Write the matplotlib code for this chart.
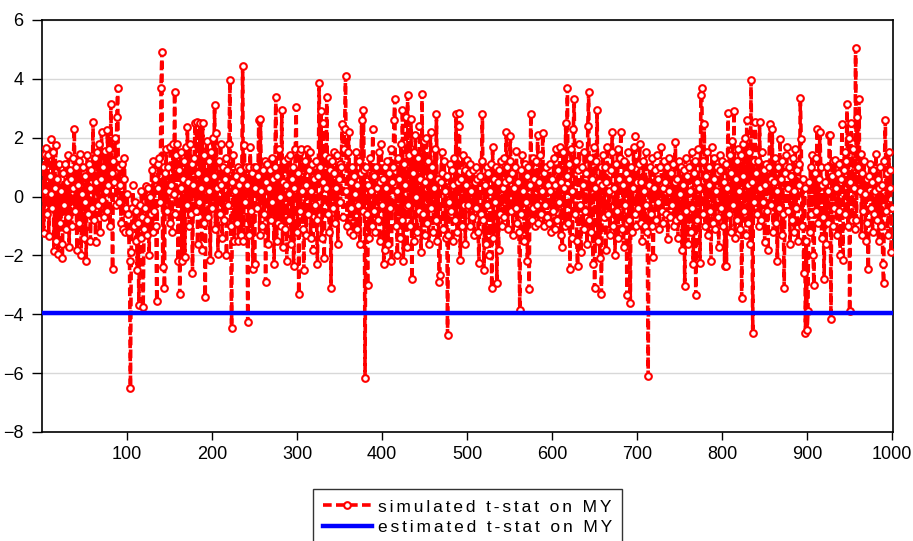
import matplotlib
matplotlib.use("Agg")
import matplotlib.pyplot as plt
import numpy as np

plt.rcParams['font.family'] = ['Liberation Sans', 'DejaVu Sans']

# Simulated t-statistics on MY, replications 1..1000
sim_tstat = [
    1.0, -1.25, 1.45, 0.2, 1.65, -0.6, 1.4, -1.35, 0.7, 0.1, 1.95, -0.4, 1.5, -1.85, 0.3, 1.75, -1.5, 0.6, -1.95, 1.1,
    -0.9, 0.2, -1.6, -2.1, 0.8, -0.3, 1.1, -1.1, 0.5, -0.7, 1.4, -1.7, 0.9, 0.6, -1.0, 0.3, 1.3, 2.3, -0.5, 1.0,
    -1.8, 0.4, 1.2, -0.9, 1.45, -2.0, 0.1, 1.0, -1.4, 0.7, -0.2, -2.2, 1.4, -0.6, 1.1, 0.3, -1.5, 0.9, -0.4, 2.55,
    -0.8, 1.3, -1.55, 0.5, 1.5, -0.3, 1.8, -1.2, 0.6, 2.2, -0.1, 1.0, -0.7, 1.55, 0.2, -0.5, 2.25, 0.4, 1.6, -1.0,
    3.15, 0.8, -2.45, 1.2, 0.5, 2.0, -0.3, 2.7, 3.7, -0.2, 1.0, 0.4, -0.9, 1.1, -1.1, 0.6, 1.3, -1.2, -0.4, 0.1,
    -0.6, -1.2, -2.2, -6.5, -1.9, -0.4, 0.4, -1.0, -0.2, -1.5, -0.5, -2.5, -0.9, -3.7, -0.3, -1.4, 0.2, -0.7, -3.75, -1.1,
    -0.4, 0.35, -1.3, -0.8, 0.3, -2.0, 0.0, -0.6, 0.9, -1.2, 1.2, -0.5, 0.6, -1.0, -3.55, 1.1, 0.3, 1.3, -0.2, 3.7,
    4.9, -2.4, 1.0, -3.1, 0.8, 1.6, -0.5, 1.0, 0.2, -0.9, 1.7, 0.4, -1.2, 1.8, 0.1, 3.55, -0.6, 1.4, 1.8, -2.2,
    0.9, -3.3, 1.5, 0.3, -2.2, 0.6, 1.2, -2.05, 1.7, -0.3, 2.35, 0.5, -1.0, 1.8, -0.6, 1.1, -2.6, 0.4, 1.3, 2.5,
    -0.5, 2.55, -1.6, 0.8, -0.2, 2.5, 0.3, -1.8, 2.5, -0.9, 1.4, -3.4, 0.6, 1.9, -0.7, 1.2, 0.2, -2.15, 1.5, -0.4,
    2.0, 0.7, 3.1, -1.1, 2.15, 0.3, -1.95, 1.2, -0.6, 1.8, 0.4, -1.4, 1.0, -0.8, 0.6, 1.3, -2.0, 0.9, -0.3, 1.8,
    3.95, -1.0, -4.45, 0.5, 1.4, -1.5, 0.2, 0.7, -0.9, 1.0, -1.5, 0.4, 0.9, -1.3, 0.6, 4.45, -1.5, 1.75, -0.2, 1.0,
    0.4, -4.25, 1.0, -1.3, 1.7, -0.5, 0.8, -2.45, 1.0, -2.3, 0.3, 1.0, -0.4, 0.7, 2.6, -1.3, 2.65, 0.2, -1.0, 0.9,
    -0.6, 1.2, -2.9, 0.5, 1.1, -1.6, 0.3, 0.9, -0.8, 1.3, -0.2, 0.6, -2.3, 1.0, 3.4, -1.5, 0.7, -0.9, 1.6, 0.0,
    -1.0, 2.95, -1.7, 0.5, 1.2, -1.1, 0.4, -2.2, 1.3, 0.1, -0.8, 1.4, -1.6, 0.6, 1.0, -2.35, 0.3, 1.6, 3.05, -1.2,
    0.8, -3.3, 1.5, -0.5, 1.6, 0.2, -1.1, -2.5, 1.2, 0.4, -1.3, 1.6, -0.6, 0.9, 1.5, -1.4, 0.2, 1.1, -1.8, 0.6,
    -0.3, 1.2, -0.8, -2.3, 0.7, 3.85, 1.0, 2.9, -1.4, 0.5, 2.5, -2.1, 1.4, 0.3, 3.4, -0.6, 1.3, -1.2, 0.9, -3.1,
    1.2, -0.4, 0.8, 1.5, -0.9, 0.3, 1.4, -1.6, 0.6, 1.1, -0.2, 1.0, 2.45, -0.7, 1.6, 2.3, 4.1, 0.2, -1.0, 1.5,
    2.2, -1.2, 0.5, -0.4, 1.0, -1.3, 0.7, 0.1, 1.5, -1.1, 0.4, -0.3, 1.2, -1.6, 0.8, 2.6, -0.5, 2.95, 0.9, -6.15,
    1.0, -0.6, -3.0, 0.4, -1.4, 1.3, 0.2, -1.0, 2.3, -0.5, 0.7, -1.2, 1.0, 0.3, -0.8, 1.5, -1.5, 0.5, 1.8, -0.3,
    0.6, -2.3, 1.0, -1.8, 0.3, 1.2, -1.6, 0.8, -0.4, 1.6, -2.2, 0.5, 1.0, 2.6, 3.3, -1.0, 0.2, -2.0, 1.3, 0.6,
    -1.4, 1.8, -0.8, 2.95, -2.2, 1.1, 0.4, 2.7, -1.7, 3.45, -0.3, 1.4, -1.0, 2.65, -2.8, 0.8, 1.5, -1.5, 2.1, 0.0,
    -1.2, 1.3, -0.5, 2.4, 0.6, -1.9, 3.5, -0.6, 1.9, -1.3, 0.5, 2.0, -0.9, 1.2, -1.6, 0.7, 2.2, -0.4, 1.0, -1.2,
    0.3, 1.6, -0.8, 2.8, -1.5, 0.6, -2.9, -2.65, 0.5, 1.5, 0.8, -1.1, 1.2, 0.2, -1.4, 0.7, -4.7, -1.3, -0.2, 1.1,
    -0.5, 0.9, -1.5, 0.4, 1.3, -0.8, 2.8, -1.2, 0.5, 2.4, 2.85, -2.15, 0.6, -1.0, 1.4, -0.3, 0.9, -1.6, 0.4, 1.25,
    -0.3, 0.8, -1.0, 1.1, 0.2, -0.7, 0.9, -1.3, 0.5, 1.0, -0.4, 0.6, -1.2, -2.25, 0.7, -0.6, 1.2, 2.8, -0.8, -2.5,
    0.4, -1.6, 1.0, -0.3, 0.8, -2.0, 0.2, 1.1, -3.1, 1.7, -1.4, 0.6, -0.2, 1.0, -2.95, 0.5, -1.8, 0.9, -0.6, 1.2,
    -1.0, 0.3, 1.3, -0.7, 0.5, 2.2, 1.0, -1.1, 0.6, 1.2, 2.05, -0.5, 0.8, -1.3, 0.3, 1.0, -0.4, 1.55, -0.9, 0.5,
    -1.2, -3.85, 0.9, -0.6, 1.4, 0.2, -1.5, 1.1, -0.2, 0.7, -2.2, 1.0, -3.15, 0.4, 2.8, -0.8, 1.3, -0.4, 0.6, -1.0,
    1.2, -0.3, 2.1, -0.9, 0.5, 1.4, -0.6, 0.2, 2.15, -1.0, 0.8, -0.3, 1.0, -0.7, 0.4, -0.9, 1.1, 0.2, -1.2, 0.6,
    -0.5, 1.3, -1.1, 0.4, 1.6, -0.8, 0.9, -0.2, 1.7, -1.3, 0.5, -1.7, 1.5, 0.3, -1.0, 2.5, 0.7, 3.7, -0.9, 1.1,
    -2.45, 1.6, 0.2, -1.4, 2.3, 3.3, -0.6, 1.2, -1.5, -2.35, 0.9, 1.8, -0.3, -1.9, 1.0, 0.4, -1.1, 1.5, -0.5, 0.8,
    -1.6, 2.4, 3.55, -0.8, 1.3, -1.2, 0.6, -2.3, 1.7, -3.1, 0.3, 1.2, 2.95, -1.5, 0.5, -2.1, 1.0, -3.3, 0.4, 1.4,
    -0.7, 1.0, -1.8, 0.5, 1.7, -0.6, 0.2, -1.3, 0.9, 1.5, 2.2, -1.0, 0.3, -2.0, 1.1, -0.5, 1.6, -1.4, 0.6, 1.3,
    2.2, -1.1, 0.4, -1.7, 1.2, -0.3, 0.8, -3.35, 1.5, -0.8, 0.6, -3.6, 1.0, -1.2, 0.3, 1.7, -0.6, 2.05, -1.0, 0.5,
    -0.4, 1.1, 1.8, -0.9, 0.5, -1.5, 1.2, 0.2, -1.0, 1.5, -0.3, -1.2, -6.1, 0.4, 1.0, -0.6, -1.0, 1.3, -2.05, 0.3,
    0.9, -0.8, 1.4, -0.2, 0.6, -1.1, 1.0, 1.7, -0.5, 0.3, -0.9, 1.2, 0.5, -0.6, 1.0, -1.45, 0.2, 1.3, -0.7, 0.8,
    -0.3, 1.1, -1.0, 0.5, 1.85, -0.8, 0.6, -1.4, 1.2, 0.1, -0.7, 1.0, -1.8, 0.4, 0.9, -3.05, 1.3, -0.5, 0.7, -1.6,
    1.0, 0.2, -1.2, 1.5, -0.4, -2.3, 0.8, 1.2, -3.35, 0.5, -0.8, 1.6, 0.3, -2.25, 3.45, 3.7, 1.2, -0.6, 2.45, -1.0,
    0.7, 1.5, -1.3, 0.4, 1.0, -0.5, -2.2, 1.7, -0.9, 0.6, 1.3, -1.1, 0.2, 1.0, -0.7, -1.7, 0.9, 1.4, -0.4, 1.2,
    -1.0, 0.5, -2.35, 1.1, -2.35, 0.3, 2.85, -0.6, 1.4, -1.2, 0.8, 1.9, -0.3, 2.9, -1.4, 0.6, 1.2, -0.8, 1.6, 0.2,
    -1.1, 1.4, -3.45, 0.7, 1.8, -0.5, 2.0, -1.3, 2.6, 0.4, -0.9, 1.5, -1.6, 3.95, 0.5, -4.65, 1.2, -0.2, 2.55, 0.8,
    -0.6, 1.2, -1.0, 2.55, 0.3, -0.8, 1.5, -0.2, 0.9, -1.55, 0.4, 1.1, -0.5, -1.8, 1.0, 2.45, -0.3, 0.6, 2.3, -1.2,
    0.5, 1.3, -0.9, 0.2, -2.2, 1.0, -0.4, 1.95, 0.6, -1.3, 1.2, -0.6, -3.1, 0.8, 1.4, 1.7, -0.5, 0.3, 1.0, -1.6,
    0.7, -0.8, 1.3, 0.2, -1.2, 1.6, -0.4, 0.9, -1.5, 1.1, 0.4, 3.35, 1.95, -1.0, 0.6, -2.6, 0.3, -4.65, -1.5, -4.55,
    -3.9, 0.5, -1.2, 1.0, -0.6, 1.4, -2.0, -3.0, 0.8, -0.5, 1.3, 2.3, -0.9, 0.6, 2.2, 1.0, -1.4, 0.4, -0.7, -2.8,
    0.5, -1.6, 1.0, 0.2, -0.9, 2.1, 2.1, -4.15, 0.7, -1.0, 1.2, -0.4, 1.25, 0.3, -1.3, 0.8, -0.5, 1.1, -2.0, 0.6,
    2.45, -2.15, 0.9, 1.5, -0.6, 1.2, 3.15, -1.0, 2.0, -3.9, 0.5, 2.5, -0.8, 1.6, 0.3, -1.1, 5.05, -0.8, 2.7, 1.0,
    3.3, 0.2, 1.45, -1.3, 0.8, -0.5, 1.2, 0.1, -1.5, 0.6, -0.9, -2.45, 0.7, 1.1, -0.4, 0.5, -1.2, 0.9, -0.6, 0.2,
    1.45, -0.8, 0.6, -1.5, 0.3, 1.0, -1.0, 0.4, -2.3, -2.95, 1.2, 2.6, -0.5, 0.8, -1.3, 1.5, 0.3, 0.9, -1.9, -0.4,
]
replication = list(range(1, len(sim_tstat) + 1))

# Estimated t-statistic on MY from the actual regression
est_tstat = -3.96

x_ticks = [100, 200, 300, 400, 500, 600, 700, 800, 900, 1000]
y_ticks = [-8, -6, -4, -2, 0, 2, 4, 6]

label_sim = "simulated t-stat on MY"
label_est = "estimated t-stat on MY"


def spaced(s):
    # open up the letter spacing of the legend labels
    return "\u2006".join(s)


fig = plt.figure(figsize=(9.13, 5.41), dpi=100)
ax = fig.add_axes([42 / 913, 1 - 432 / 541, (893 - 42) / 913, (432 - 20) / 541])

ax.plot(replication, sim_tstat, color="#ff0000", lw=2.6,
        linestyle=(0, (2.4, 1.2)), marker="o", markersize=4.8,
        markerfacecolor="white", markeredgecolor="#ff0000",
        markeredgewidth=1.5, label=spaced(label_sim), zorder=3)
ax.axhline(est_tstat, color="#0000ff", lw=3.2, label=spaced(label_est), zorder=4)

ax.set_xlim(0, 1001)
ax.set_ylim(-8, 6)
ax.set_xticks(x_ticks)
ax.set_yticks(y_ticks)
ax.tick_params(direction="out", width=1, labelsize=13, colors="black")
ax.tick_params(axis="y", length=7.5, pad=6)
ax.tick_params(axis="x", length=6, pad=4)
ax.grid(axis="y", color="#d8d8d8", lw=1, zorder=0)
ax.set_axisbelow(True)
for sp in ax.spines.values():
    sp.set_linewidth(1.2)
    sp.set_color("black")

leg = fig.legend(loc="upper center", bbox_to_anchor=(467.5 / 913, 1 - 489 / 541),
                 ncol=1, frameon=True, fancybox=False, fontsize=12.5,
                 handlelength=2.8, handletextpad=0.35, numpoints=1,
                 borderpad=0.6, labelspacing=0.3, borderaxespad=0)
leg.get_frame().set_edgecolor("black")
leg.get_frame().set_linewidth(1.0)

fig.savefig("out.png", dpi=100)
